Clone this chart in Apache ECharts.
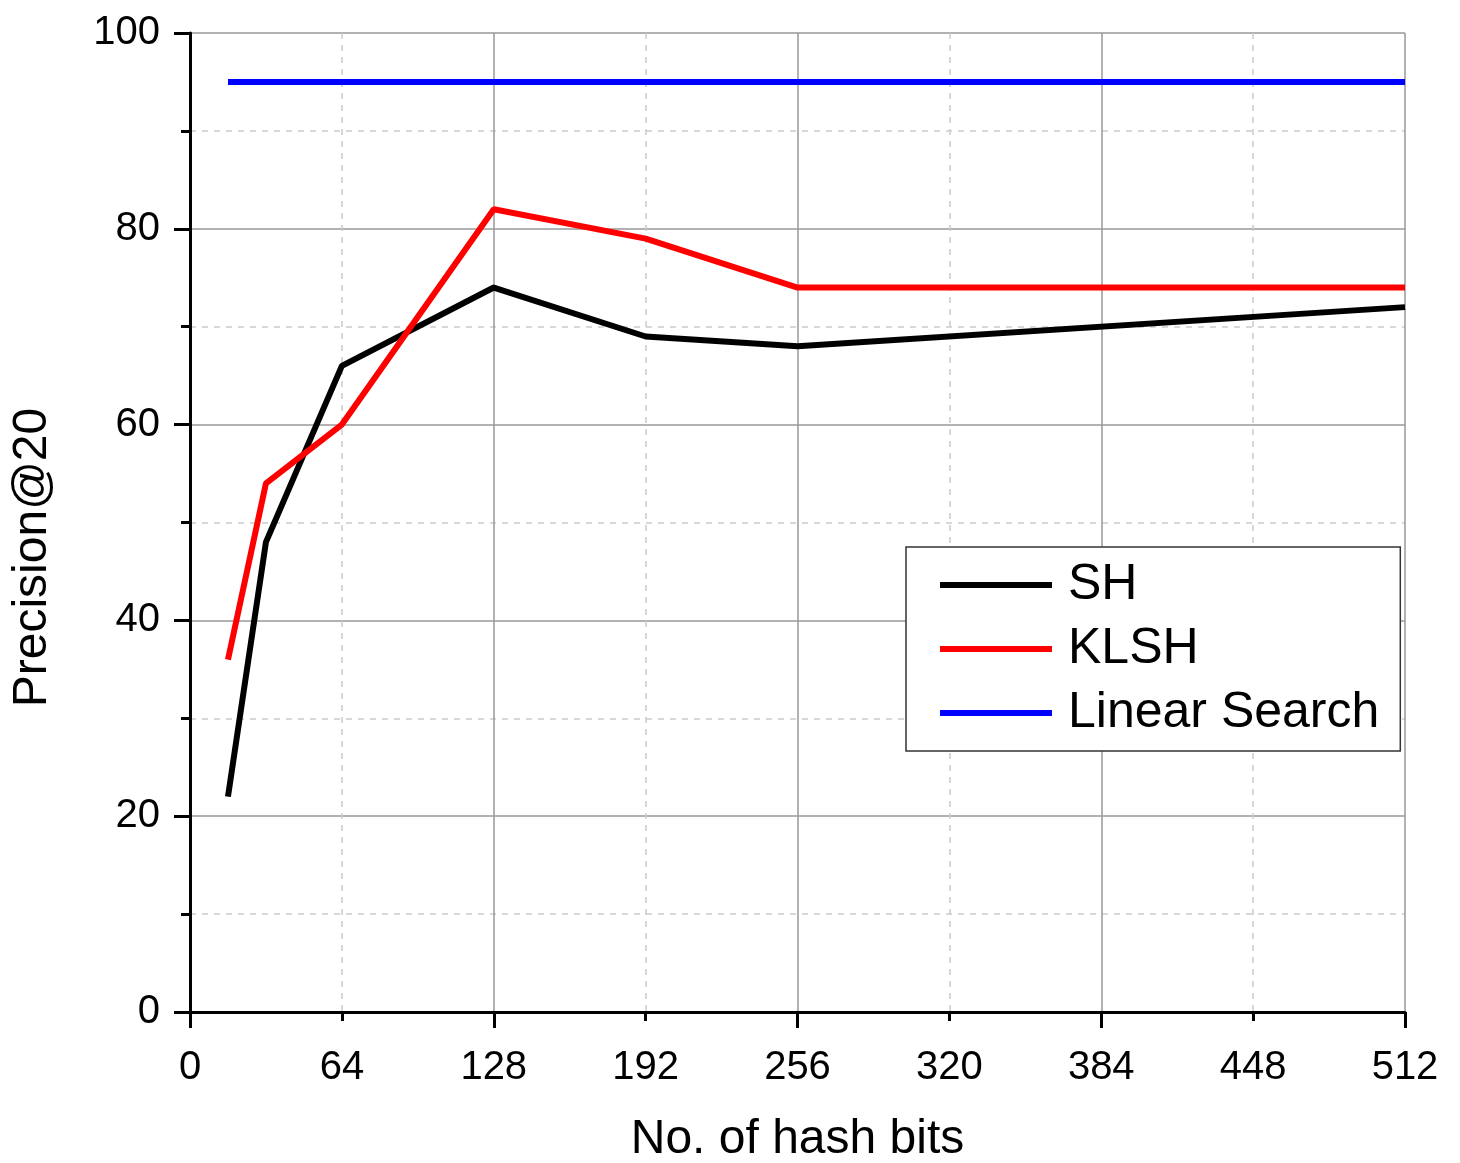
<!DOCTYPE html>
<html>
<head>
<meta charset="utf-8">
<script src="https://cdn.jsdelivr.net/npm/echarts@6/dist/echarts.min.js"></script>
<style>
  html, body { margin: 0; padding: 0; background: #fff; }
  #chart { width: 1460px; height: 1163px; }
</style>
</head>
<body>
<div id="chart"></div>
<script>
var hashBits = [16, 32, 64, 128, 192, 256, 512];
var shValues = [22, 48, 66, 74, 69, 68, 72];
var klshValues = [36, 54, 60, 82, 79, 74, 74];
var linearBits = [16, 512];
var linearValues = [95, 95];

function pairs(xs, ys) {
  return xs.map(function (x, i) { return [x, ys[i]]; });
}

var font = 'Liberation Sans, Arial, sans-serif';

var option = {
  animation: false,
  backgroundColor: '#fff',
  grid: { left: 190, right: 55, top: 33, bottom: 151, outerBoundsMode: 'none', containLabel: false },
  legend: {
    data: [
      { name: 'SH', icon: 'rect' },
      { name: 'KLSH', icon: 'rect' },
      { name: 'Linear Search', icon: 'rect' }
    ],
    orient: 'vertical',
    left: 906,
    top: 547,
    padding: [13, 21, 13, 34],
    itemGap: 14,
    itemWidth: 112,
    itemHeight: 6,
    borderColor: '#333',
    borderWidth: 1.5,
    backgroundColor: '#fff',
    textStyle: { fontFamily: font, fontSize: 50, color: '#000', lineHeight: 50, padding: [0, 0, 0, 11] }
  },
  xAxis: [
    {
      type: 'value',
      min: 0, max: 512, interval: 128,
      axisLine: { show: true, onZero: false, lineStyle: { color: '#000', width: 3 } },
      axisTick: { show: true, length: 16, lineStyle: { color: '#000', width: 3 } },
      minorTick: { show: true, splitNumber: 2, length: 9, lineStyle: { color: '#000', width: 3 } },
      axisLabel: { show: false },
      splitLine: { show: true, lineStyle: { color: '#999', width: 1.5 } },
      minorSplitLine: { show: true, lineStyle: { color: '#ccc', width: 1.5, type: [6, 6] } },
      name: 'No. of hash bits',
      nameLocation: 'middle',
      nameGap: 104,
      nameTextStyle: { fontFamily: font, fontSize: 48, color: '#000' }
    },
    {
      type: 'value',
      position: 'bottom',
      min: 0, max: 512, interval: 64,
      axisLine: { show: false },
      axisTick: { show: false },
      splitLine: { show: false },
      axisLabel: { show: true, margin: 36, fontFamily: font, fontSize: 40, color: '#000' }
    }
  ],
  yAxis: {
    type: 'value',
    min: 0, max: 100, interval: 20,
    axisLine: { show: true, lineStyle: { color: '#000', width: 3 } },
    axisTick: { show: true, length: 16, lineStyle: { color: '#000', width: 3 } },
    minorTick: { show: true, splitNumber: 2, length: 9, lineStyle: { color: '#000', width: 3 } },
    axisLabel: { margin: 30, fontFamily: font, fontSize: 40, color: '#000' },
    splitLine: { show: true, lineStyle: { color: '#999', width: 1.5 } },
    minorSplitLine: { show: true, lineStyle: { color: '#ccc', width: 1.5, type: [6, 6] } },
    name: 'Precision@20',
    nameLocation: 'middle',
    nameGap: 133,
    nameTextStyle: { fontFamily: font, fontSize: 48, color: '#000', padding: [0, 70, 0, 0] }
  },
  series: [
    {
      name: 'SH',
      type: 'line',
      data: pairs(hashBits, shValues),
      symbol: 'none',
      color: '#000',
      lineStyle: { color: '#000', width: 6 }
    },
    {
      name: 'KLSH',
      type: 'line',
      data: pairs(hashBits, klshValues),
      symbol: 'none',
      color: '#ff0000',
      lineStyle: { color: '#ff0000', width: 6 }
    },
    {
      name: 'Linear Search',
      type: 'line',
      data: pairs(linearBits, linearValues),
      symbol: 'none',
      color: '#0000ff',
      lineStyle: { color: '#0000ff', width: 6 }
    }
  ]
};

var myChart = echarts.init(document.getElementById('chart'));
myChart.setOption(option);
window.addEventListener('resize', function () {
  myChart.resize();
});
</script>
</body>
</html>
